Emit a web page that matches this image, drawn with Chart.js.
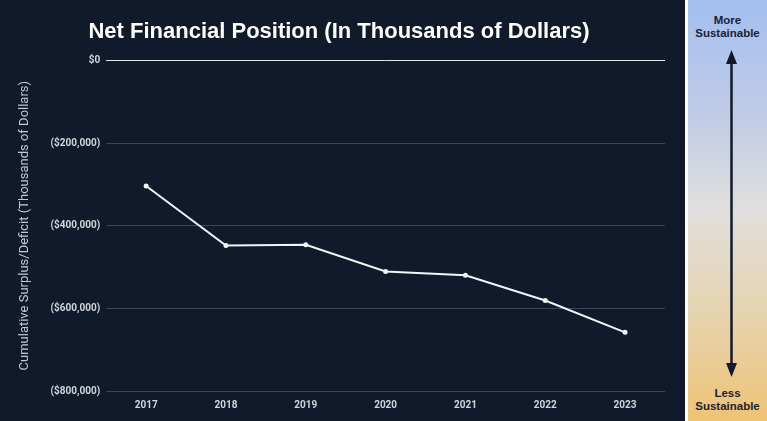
<!DOCTYPE html>
<html>
<head>
<meta charset="utf-8">
<script src="https://cdn.jsdelivr.net/npm/chart.js@4"></script>
<style>
  html, body { margin: 0; padding: 0; background: #111a2b; }
  #wrap { position: relative; width: 767px; height: 421px; overflow: hidden; }
  #chartBox { position: absolute; left: 0; top: 0; width: 685px; height: 421px; background: #111a2b; }
  #sep { position: absolute; left: 685px; top: 0; width: 3px; height: 421px; background: #ffffff; }
  #panel { position: absolute; left: 688px; top: 0; width: 79px; height: 421px;
    background: linear-gradient(to bottom, #a4bef0 0%, #c3cde4 30%, #e0dfdc 50%, #e6d3ae 75%, #efc374 100%); }
  .lbl { position: absolute; left: 0; width: 79px; text-align: center; font-family: "Liberation Sans", Arial, sans-serif;
    font-weight: bold; font-size: 11.5px; line-height: 13px; color: #1b2233; }
</style>
</head>
<body>
<div id="wrap">
  <div id="chartBox"><canvas id="chart"></canvas></div>
  <div id="sep"></div>
  <div id="panel">
    <div class="lbl" style="top:14px">More<br>Sustainable</div>
    <svg width="79" height="421" style="position:absolute;left:0;top:0">
      <line x1="43.5" y1="60" x2="43.5" y2="366" stroke="#111a2b" stroke-width="2.5"/>
      <polygon points="43.5,50 38,64 49,64" fill="#111a2b"/>
      <polygon points="43.5,377 38,363 49,363" fill="#111a2b"/>
    </svg>
    <div class="lbl" style="top:387px">Less<br>Sustainable</div>
  </div>
</div>
<script>
// values, in thousands of dollars
const years = ['2017', '2018', '2019', '2020', '2021', '2022', '2023'];
const netPosition = [-304000, -448000, -446000, -511000, -520000, -581000, -658000];

function money(v) {
  if (v === 0) return '$0';
  return '($' + Math.abs(v).toLocaleString('en-US') + ')';
}

const ctx = document.getElementById('chart').getContext('2d');
new Chart(ctx, {
  type: 'line',
  data: {
    labels: years,
    datasets: [{
      data: netPosition,
      borderColor: '#f3f4f6',
      backgroundColor: '#f3f4f6',
      borderWidth: 2,
      pointRadius: 1.5,
      pointHoverRadius: 1.5,
      lineTension: 0,
      fill: false
    }]
  },
  options: {
    responsive: true,
    maintainAspectRatio: false,
    animation: false,
    layout: { padding: { left: 13, right: 20, top: 10, bottom: 10 } },
    plugins: {
      legend: { display: false },
      tooltip: { enabled: false },
      title: {
        display: true,
        text: 'Net Financial Position (In Thousands of Dollars)',
        color: '#ffffff',
        font: { family: '"Liberation Sans", Arial, sans-serif', size: 22, weight: 'bold' },
        padding: { top: 9, bottom: 15 }
      }
    },
    scales: {
      x: {
        offset: true,
        grid: { display: false },
        border: { display: false },
        ticks: { color: '#d1d5db', font: { family: 'Roboto', size: 10, weight: 'bold' }, padding: 0 }
      },
      y: {
        min: -800000,
        max: 0,
        grid: {
          color: ctx => ctx.tick && ctx.tick.value === 0 ? '#e5e7eb' : '#3c4455',
          lineWidth: 1,
          drawTicks: false
        },
        border: { display: false },
        ticks: {
          stepSize: 200000,
          color: '#d1d5db',
          font: { family: 'Roboto', size: 10, weight: 'bold' },
          padding: 6,
          callback: v => money(v)
        },
        title: {
          display: true,
          text: 'Cumulative Surplus/Deficit (Thousands of Dollars)',
          color: '#c4c8d0',
          font: { family: 'Roboto', size: 13 },
          padding: { bottom: 12 }
        }
      }
    }
  }
});
</script>
</body>
</html>
